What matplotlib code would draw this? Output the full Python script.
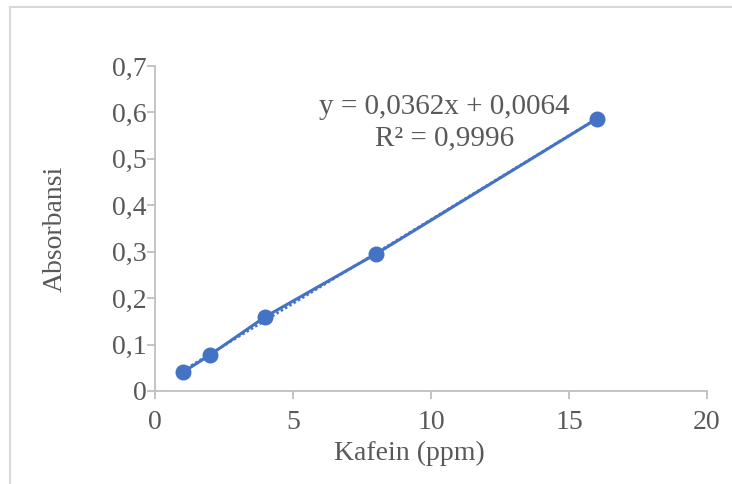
import matplotlib.pyplot as plt
import numpy as np
from matplotlib.lines import Line2D

# data kurva kalibrasi kafein
konsentrasi = [1, 2, 4, 8, 16]
absorbansi = [0.040, 0.078, 0.160, 0.295, 0.586]

xticks = [0, 5, 10, 15, 20]
yticks = [0, 0.1, 0.2, 0.3, 0.4, 0.5, 0.6, 0.7]
ylabels = ['0', '0,1', '0,2', '0,3', '0,4', '0,5', '0,6', '0,7']

biru = '#4472C4'
abu = '#595959'
garis = '#BFBFBF'

plt.rcParams['font.family'] = ['Liberation Serif', 'DejaVu Serif']

fig = plt.figure(figsize=(7.32, 4.84), dpi=100)
ax = fig.add_axes([155 / 732, 1 - 391 / 484, 552 / 732, 325 / 484])

# garis tren linear
a, b = np.polyfit(konsentrasi, absorbansi, 1)
xt = np.array([min(konsentrasi), max(konsentrasi)])
ax.plot(xt, a * xt + b, color=biru, lw=1.8, ls=(0, (1, 1)), zorder=2)

ax.plot(konsentrasi, absorbansi, color=biru, lw=2.2, marker='o',
        markersize=10.5, zorder=3)

ax.text(10.5, 0.578, 'y = 0,0362x + 0,0064\nR² = 0,9996', ha='center',
        va='center', fontsize=21, color=abu, linespacing=1.3)

ax.set_xlim(0, 20)
ax.set_ylim(0, 0.7)
ax.set_xticks(xticks)
ax.set_xticklabels([str(t) for t in xticks])
ax.set_yticks(yticks)
ax.set_yticklabels(ylabels)
ax.tick_params(colors=garis, labelcolor=abu, labelsize=20, length=6,
               width=1.3, direction='out')
ax.tick_params(axis='x', pad=8)
ax.tick_params(axis='y', pad=0)

for s in ['top', 'right']:
    ax.spines[s].set_visible(False)
for s in ['left', 'bottom']:
    ax.spines[s].set_color(garis)
    ax.spines[s].set_linewidth(1.3)

ax.set_xlabel('Kafein (ppm)', fontsize=20, color=abu)
ax.set_ylabel('Absorbansi', fontsize=20, color=abu)
ax.xaxis.set_label_coords(0.46, -0.152)
ax.yaxis.set_label_coords(-0.158, 0.5)

# bingkai area grafik
fig.add_artist(Line2D([10 / 732, 10 / 732], [0, 1 - 7 / 484],
                      transform=fig.transFigure, color='#D9D9D9', lw=1.5))
fig.add_artist(Line2D([10 / 732, 1], [1 - 7 / 484, 1 - 7 / 484],
                      transform=fig.transFigure, color='#D9D9D9', lw=1.5))

fig.savefig('out.png', dpi=100)
